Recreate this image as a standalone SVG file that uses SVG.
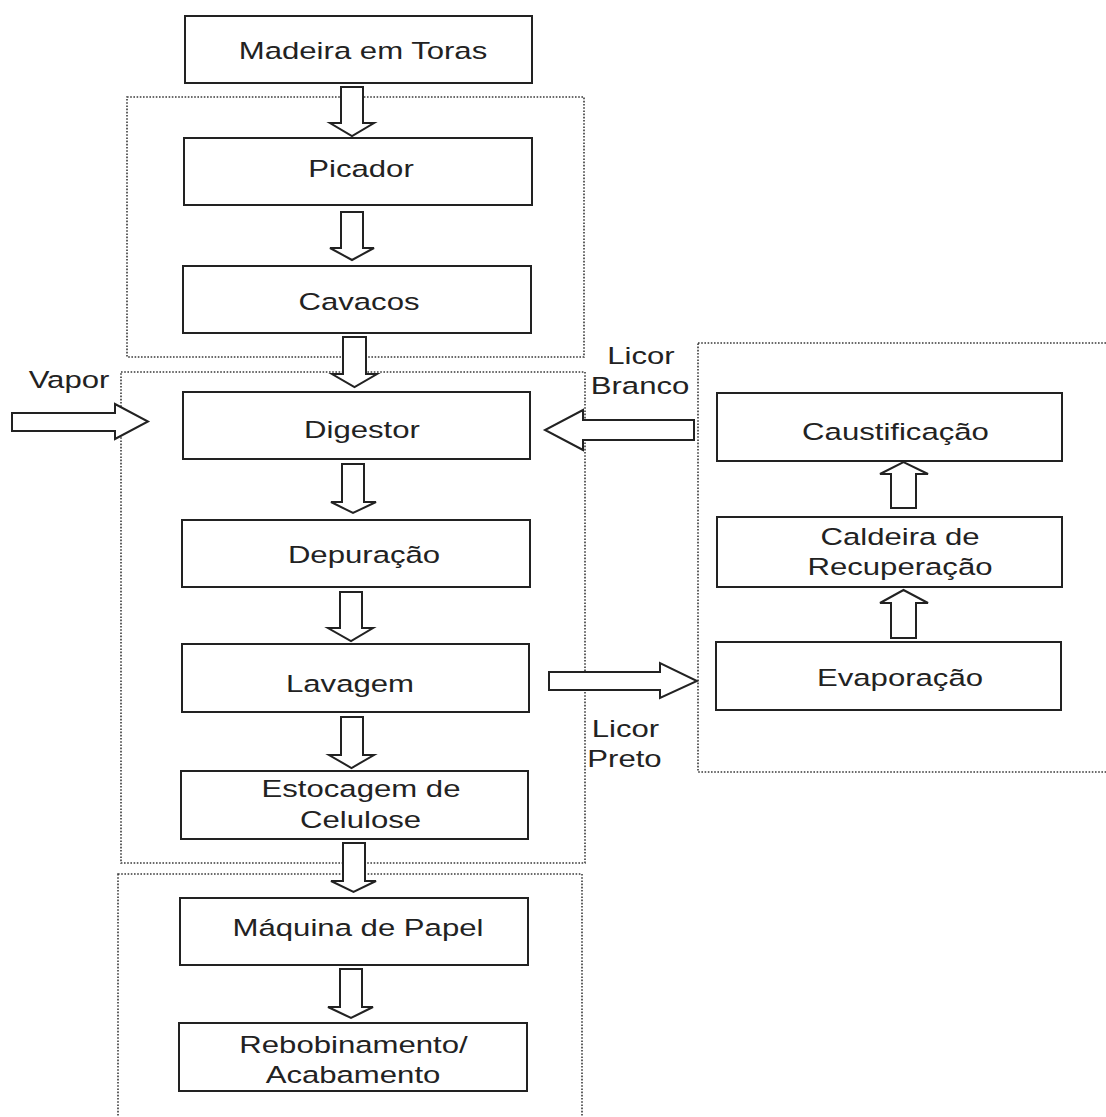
<svg xmlns="http://www.w3.org/2000/svg" width="1106" height="1117" viewBox="0 0 1106 1117">
<style>
.grp{fill:none;stroke:#3a3a3a;stroke-width:1.6;stroke-dasharray:1.6 1.6}
.box{fill:#fff;stroke:#222;stroke-width:2}
.arr{fill:#fff;stroke:#222;stroke-width:2;stroke-linejoin:miter}
text{font-family:"Liberation Sans",Arial,sans-serif;font-size:24.5px;fill:#222;text-anchor:middle}
</style>
<rect width="1106" height="1117" fill="#fff"/>
<g id="groups">
<rect class="grp" x="127" y="97" width="457" height="260"/>
<rect class="grp" x="121" y="372" width="464" height="491"/>
<rect class="grp" x="698" y="343" width="420" height="429"/>
<rect class="grp" x="118" y="874" width="464" height="260"/>
</g>
<g id="connectors">
<polygon class="arr" points="341,87 363,87 363,123 374,123 352,136 330,123 341,123"/>
<polygon class="arr" points="341,212 363,212 363,248 374,248 352,260 330,248 341,248"/>
<polygon class="arr" points="343,337 366,337 366,374 377,374 354.5,387 332,374 343,374"/>
<polygon class="arr" points="342,464 364,464 364,502 376,502 353,513 331,502 342,502"/>
<polygon class="arr" points="340,592 362,592 362,628 373,628 351,641 328,628 340,628"/>
<polygon class="arr" points="341,717 363,717 363,755 374,755 351.5,768 329,755 341,755"/>
<polygon class="arr" points="343,843 365,843 365,881 376,881 353.5,892 331,881 343,881"/>
<polygon class="arr" points="340,969 362,969 362,1007 373,1007 351,1018 328,1007 340,1007"/>
<polygon class="arr" points="891,508 916,508 916,474 928,474 903.5,462 880,474 891,474"/>
<polygon class="arr" points="891,638 916,638 916,603 928,603 903.5,590 880,603 891,603"/>
<polygon class="arr" points="12,413 115,413 115,404 148,421.5 115,439 115,431 12,431"/>
<polygon class="arr" points="694,420 583,420 583,410 545,430 583,450 583,440 694,440"/>
<polygon class="arr" points="549,672 660,672 660,663 697,681 660,698 660,690 549,690"/>
<text transform="translate(69,388) scale(1.27,1)">Vapor</text>
<text transform="translate(641,364) scale(1.27,1)">Licor</text>
<text transform="translate(640,394) scale(1.27,1)">Branco</text>
<text transform="translate(625.5,737) scale(1.27,1)">Licor</text>
<text transform="translate(624.5,767) scale(1.27,1)">Preto</text>
</g>
<g id="madeira"><rect class="box" x="185" y="16" width="347" height="67"/><text transform="translate(363,59) scale(1.27,1)">Madeira em Toras</text></g>
<g id="picador"><rect class="box" x="184" y="138" width="348" height="67"/><text transform="translate(361,177) scale(1.27,1)">Picador</text></g>
<g id="cavacos"><rect class="box" x="183" y="266" width="348" height="67"/><text transform="translate(359,310) scale(1.27,1)">Cavacos</text></g>
<g id="digestor"><rect class="box" x="183" y="392" width="347" height="67"/><text transform="translate(362,438) scale(1.27,1)">Digestor</text></g>
<g id="depuracao"><rect class="box" x="182" y="520" width="348" height="67"/><text transform="translate(364,563) scale(1.27,1)">Depuração</text></g>
<g id="lavagem"><rect class="box" x="182" y="644" width="347" height="68"/><text transform="translate(350,692) scale(1.27,1)">Lavagem</text></g>
<g id="estocagem"><rect class="box" x="181" y="771" width="347" height="68"/><text transform="translate(361,797) scale(1.27,1)">Estocagem de</text><text transform="translate(360.5,828) scale(1.27,1)">Celulose</text></g>
<g id="maquina"><rect class="box" x="180" y="898" width="348" height="67"/><text transform="translate(358,936) scale(1.27,1)">Máquina de Papel</text></g>
<g id="rebobinamento"><rect class="box" x="179" y="1023" width="348" height="68"/><text transform="translate(353.5,1053) scale(1.27,1)">Rebobinamento/</text><text transform="translate(353,1083) scale(1.27,1)">Acabamento</text></g>
<g id="caustificacao"><rect class="box" x="717" y="393" width="345" height="68"/><text transform="translate(895.5,440) scale(1.27,1)">Caustificação</text></g>
<g id="caldeira"><rect class="box" x="717" y="517" width="345" height="70"/><text transform="translate(900,545) scale(1.27,1)">Caldeira de</text><text transform="translate(900,575) scale(1.27,1)">Recuperação</text></g>
<g id="evaporacao"><rect class="box" x="716" y="642" width="345" height="68"/><text transform="translate(900,686) scale(1.27,1)">Evaporação</text></g>
</svg>
